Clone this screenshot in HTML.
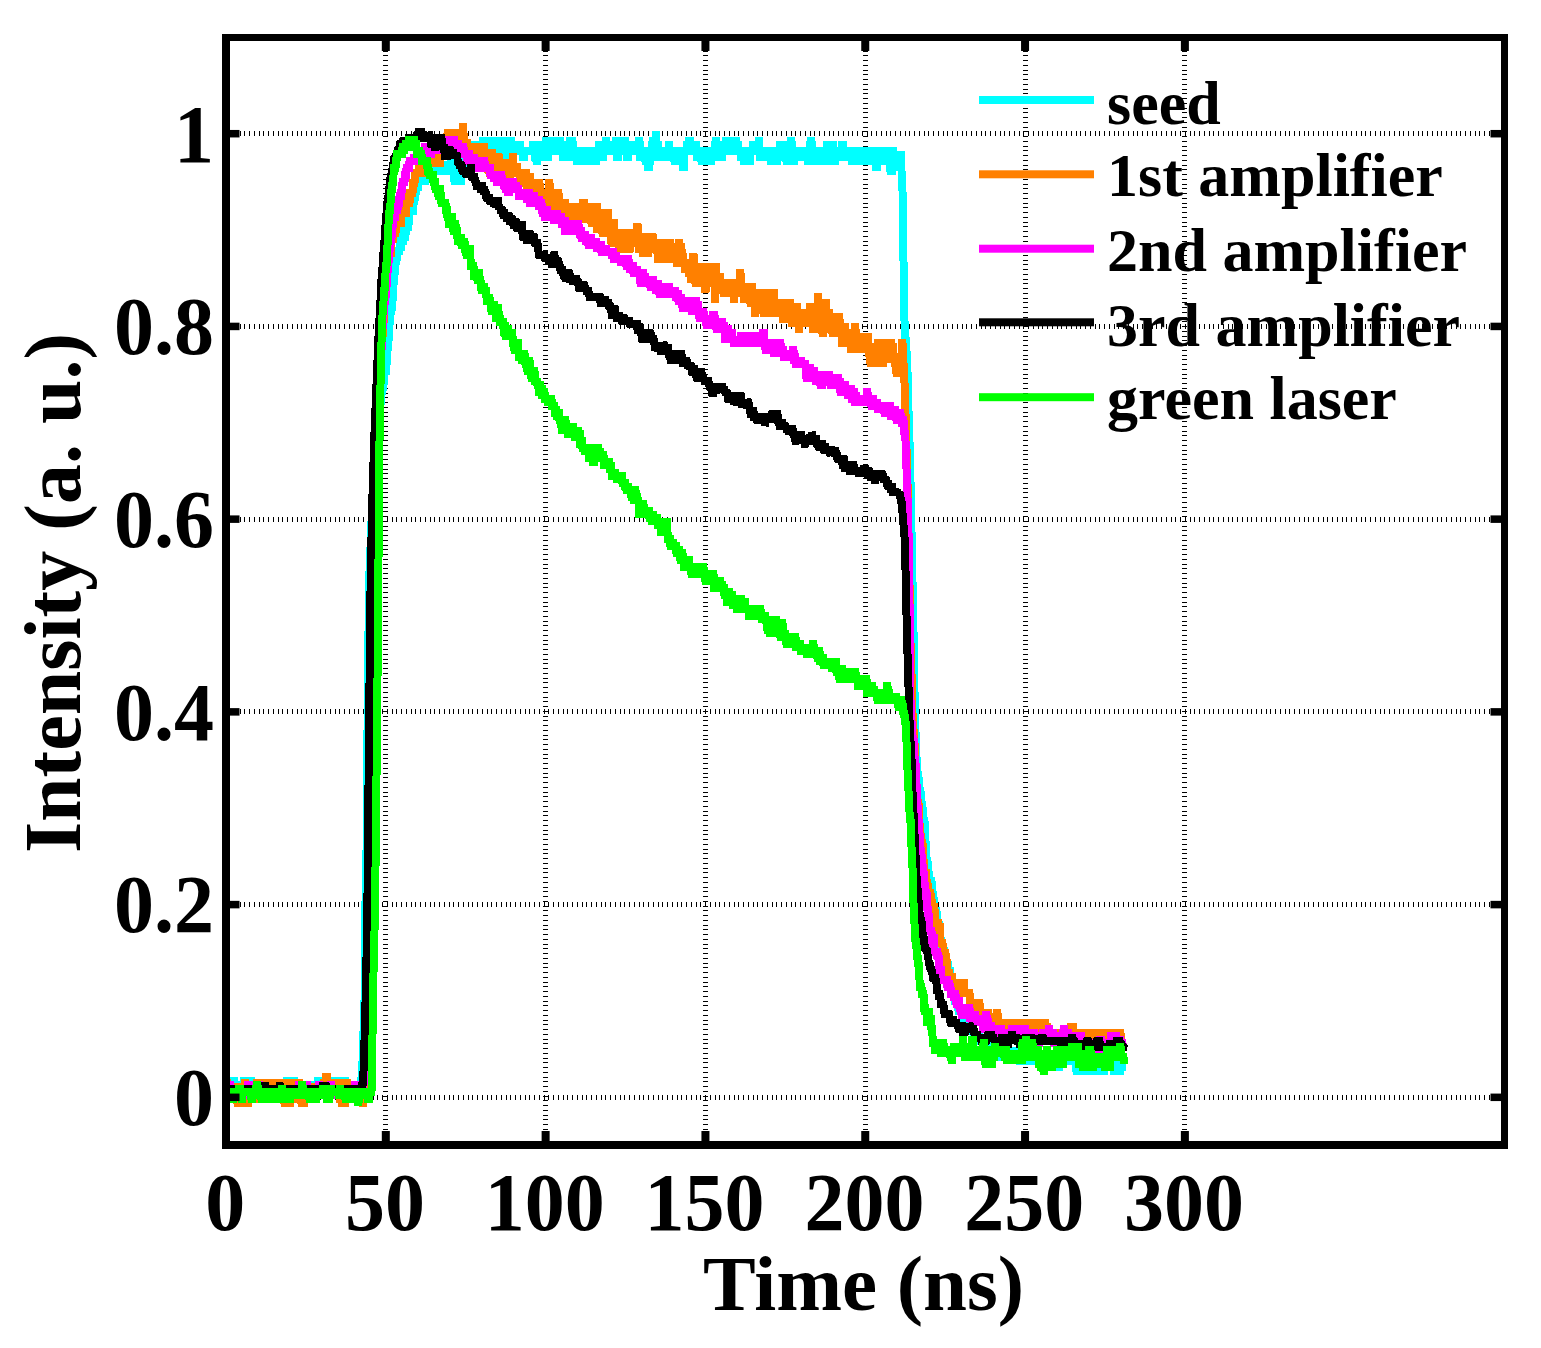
<!DOCTYPE html>
<html><head><meta charset="utf-8"><title>Intensity vs Time</title>
<style>html,body{margin:0;padding:0;background:#fff;}svg{display:block;}</style>
</head><body>
<svg width="1541" height="1348" viewBox="0 0 1541 1348">
<rect width="1541" height="1348" fill="#fff"/>
<g stroke="#000" stroke-width="5" stroke-dasharray="1 3.75" shape-rendering="crispEdges"><line x1="230" y1="1097.32" x2="1501" y2="1097.32"/><line x1="230" y1="904.60" x2="1501" y2="904.60"/><line x1="230" y1="711.87" x2="1501" y2="711.87"/><line x1="230" y1="519.15" x2="1501" y2="519.15"/><line x1="230" y1="326.43" x2="1501" y2="326.43"/><line x1="230" y1="133.70" x2="1501" y2="133.70"/><line x1="385.81" y1="41" x2="385.81" y2="1141"/><line x1="545.62" y1="41" x2="545.62" y2="1141"/><line x1="705.44" y1="41" x2="705.44" y2="1141"/><line x1="865.25" y1="41" x2="865.25" y2="1141"/><line x1="1025.06" y1="41" x2="1025.06" y2="1141"/><line x1="1184.88" y1="41" x2="1184.88" y2="1141"/></g>
<polyline fill="none" stroke="#00FFFF" stroke-width="8" stroke-linejoin="miter" stroke-miterlimit="2" shape-rendering="crispEdges" points="226,1091 228.5,1091 229,1081 229.5,1081 230,1091 232.5,1091 233,1081 234.5,1081 235,1091 236,1091 236.5,1081 237,1091 238.5,1091 239,1081 239.5,1091 243.5,1091 244,1081 245,1081 245.5,1091 246,1091 246.5,1081 247,1091 247.5,1091 248,1081 251,1081 251.5,1091 252,1091 252.5,1081 253,1091 272,1091 272.5,1081 273,1091 280,1091 280.5,1081 281,1091 282,1091 282.5,1081 283,1091 286,1091 286.5,1081 287,1081 287.5,1091 288,1081 289,1081 289.5,1091 291.5,1091 292,1081 292.5,1081 293,1091 293.5,1081 294,1081 294.5,1091 298.5,1091 299,1081 299.5,1091 312.5,1091 313,1081 313.5,1091 314,1091 314.5,1081 315,1091 317,1091 317.5,1081 318,1081 318.5,1091 322,1091 322.5,1081 323,1091 324.5,1091 325,1081 325.5,1091 328,1091 328.5,1081 329,1091 330.5,1091 331,1081 331.5,1091 332,1091 332.5,1081 333,1081 333.5,1091 338,1091 338.5,1081 339,1091 339.5,1081 341.5,1081 342,1091 343.5,1091 344,1081 345.5,1081 346,1091 347,1091 347.5,1081 348,1091 349,1091 349.5,1081 350,1091 357,1091 357.5,1081 358,1091 360.5,1091 361,1081 361.5,1081 362,1071 362.5,1061 363,1051 363.5,1031 364,1021 364.5,1001 365,951 365.5,901 366,871 366.5,851 367,791 367.5,731 368,671 368.5,631 369,601 369.5,571 370,551 370.5,551 371,531 371.5,521 372,511 372.5,501 373,491 373.5,481 374,481 374.5,471 375,461 375.5,451 376.5,451 377,441 377.5,431 378.5,431 379,421 379.5,411 380,411 380.5,401 381,401 381.5,391 382.5,391 383,381 384,381 384.5,371 386,371 386.5,361 387,361 387.5,351 388,341 388.5,341 389,331 389.5,321 390,321 390.5,311 391.5,311 392,301 392.5,301 393,291 393.5,281 394,281 394.5,271 395,271 395.5,261 396.5,261 397,251 399.5,251 400,241 400.5,251 401,241 401.5,241 402,231 402.5,241 403,241 403.5,231 404,231 404.5,241 405,231 406.5,231 407,221 407.5,231 408,221 409,221 409.5,211 413,211 413.5,201 414.5,201 415,191 416,191 416.5,181 417,181 417.5,191 418,181 420.5,181 421,171 424,171 424.5,181 425.5,181 426,171 426.5,181 427,171 432,171 432.5,181 433,171 437.5,171 438,161 439.5,161 440,171 445,171 445.5,161 446,171 447,171 447.5,161 448,171 450.5,171 451,161 451.5,161 452,171 452.5,161 453,171 454,171 454.5,181 455,181 455.5,171 460,171 460.5,181 461,181 461.5,171 464,171 464.5,161 468,161 468.5,151 469,161 470,161 470.5,151 471.5,151 472,141 472.5,151 473,161 473.5,151 474,141 474.5,151 475,151 475.5,141 476,161 476.5,161 477,151 477.5,151 478,161 478.5,161 479,151 482.5,151 483,141 483.5,141 484,151 484.5,141 485.5,141 486,151 488.5,151 489,141 490,141 490.5,151 491,141 491.5,151 492,151 492.5,141 493,151 493.5,141 494,151 496.5,151 497,141 498.5,141 499,151 499.5,151 500,141 502,141 502.5,151 504.5,151 505,161 505.5,151 506,141 506.5,141 507,151 507.5,141 508,151 509,151 509.5,141 511.5,141 512,151 513,151 513.5,141 514,151 519.5,151 520,141 520.5,151 523,151 523.5,161 524,151 533,151 533.5,141 534,151 535,151 535.5,161 536,151 536.5,161 537,161 537.5,151 539.5,151 540,141 540.5,151 541,151 541.5,141 542,151 544.5,151 545,161 545.5,151 546,141 546.5,141 547,151 547.5,151 548,161 548.5,151 550.5,151 551,141 552,141 552.5,151 553.5,151 554,141 554.5,141 555,151 558,151 558.5,141 559,151 559.5,141 560.5,141 561,151 563,151 563.5,161 564,151 565,151 565.5,141 566,151 567,151 567.5,141 568,161 568.5,151 569.5,151 570,141 572.5,141 573,151 574,151 574.5,161 575,151 576.5,151 577,161 577.5,161 578,151 580.5,151 581,161 581.5,161 582,151 584.5,151 585,161 585.5,151 588,151 588.5,161 589.5,161 590,151 592,151 592.5,161 593,161 593.5,151 595,151 595.5,161 596,161 596.5,151 599,151 599.5,141 600,151 602,151 602.5,161 603,151 605.5,151 606,141 606.5,141 607,151 609,151 609.5,141 610,151 615.5,151 616,141 616.5,141 617,151 617.5,161 618,151 618.5,141 623,141 623.5,151 624.5,151 625,141 625.5,141 626,151 626.5,141 627,151 627.5,161 628,151 629,151 629.5,141 630,151 632,151 632.5,141 633,151 634.5,151 635,141 635.5,151 638,151 638.5,141 639.5,141 640,151 640.5,161 641,151 641.5,161 642,151 645,151 645.5,161 646,161 646.5,151 647.5,151 648,161 648.5,171 649,161 650.5,161 651,151 651.5,161 652,151 652.5,141 653,141 653.5,151 654,151 654.5,141 655.5,141 656,131 656.5,151 657,151 657.5,141 658,151 658.5,151 659,161 659.5,151 660.5,151 661,161 661.5,151 663.5,151 664,161 664.5,151 667.5,151 668,161 668.5,151 669,141 669.5,151 670,151 670.5,161 671,151 671.5,161 672,151 674,151 674.5,161 675,161 675.5,151 676.5,151 677,161 677.5,151 679.5,151 680,161 680.5,161 681,151 681.5,151 682,161 682.5,151 683,151 683.5,171 684,161 684.5,151 687,151 687.5,141 688,151 688.5,151 689,141 690,141 690.5,151 692,151 692.5,141 693,151 693.5,141 694,151 695,151 695.5,141 696,151 697,151 697.5,161 698,151 699,151 699.5,161 700,151 701,151 701.5,161 702,161 702.5,151 703.5,151 704,161 706,161 706.5,151 709,151 709.5,161 710,151 710.5,151 711,161 711.5,161 712,151 712.5,151 713,161 713.5,151 714,161 714.5,151 715,151 715.5,141 716.5,141 717,151 719.5,151 720,141 720.5,151 721,141 721.5,151 722,161 722.5,151 723,151 723.5,141 724,151 724.5,141 725,151 725.5,151 726,141 727.5,141 728,151 729,151 729.5,141 730,151 730.5,141 731,151 731.5,151 732,141 732.5,151 733,141 733.5,141 734,151 734.5,141 736.5,141 737,151 737.5,151 738,141 738.5,151 740.5,151 741,161 741.5,151 743.5,151 744,161 744.5,161 745,151 745.5,161 746,161 746.5,151 747,151 747.5,161 750,161 750.5,151 753,151 753.5,141 754,151 757,151 757.5,141 758,151 758.5,141 759,141 759.5,151 760,161 760.5,151 761.5,151 762,161 762.5,151 765,151 765.5,161 766,151 767.5,151 768,161 768.5,151 770.5,151 771,161 771.5,161 772,151 772.5,151 773,161 774.5,161 775,151 775.5,161 777.5,161 778,151 779.5,151 780,141 780.5,151 783.5,151 784,141 784.5,151 786,151 786.5,161 788,161 788.5,151 789,161 789.5,161 790,151 790.5,141 791.5,141 792,151 793,151 793.5,161 794.5,161 795,151 795.5,151 796,161 796.5,151 798.5,151 799,161 799.5,151 800.5,151 801,161 801.5,151 805,151 805.5,161 806,151 807.5,151 808,161 809.5,161 810,151 810.5,141 811,141 811.5,151 812,141 812.5,151 814.5,151 815,161 815.5,151 816,151 816.5,161 818.5,161 819,151 819.5,151 820,161 820.5,151 821,161 822,161 822.5,151 824,151 824.5,161 826.5,161 827,151 827.5,141 828,151 829.5,151 830,161 830.5,161 831,151 832,151 832.5,141 833,151 834,151 834.5,161 835.5,161 836,151 836.5,151 837,161 837.5,151 839,151 839.5,161 840,151 842,151 842.5,141 843,151 847,151 847.5,161 848,151 849.5,151 850,161 850.5,151 851,161 851.5,151 852,161 852.5,161 853,151 853.5,151 854,161 855,161 855.5,151 856,151 856.5,161 859,161 859.5,151 860.5,151 861,161 861.5,161 862,151 863,151 863.5,161 865.5,161 866,151 867.5,151 868,161 869,161 869.5,151 870,151 870.5,161 874,161 874.5,151 875,151 875.5,161 876,161 876.5,171 877,161 877.5,161 878,151 879.5,151 880,161 882.5,161 883,151 883.5,151 884,161 884.5,161 885,151 886.5,151 887,161 890,161 890.5,171 892,171 892.5,151 893,151 893.5,161 895.5,161 896,171 896.5,161 900,161 900.5,151 901,161 901.5,171 902,181 902.5,191 903,221 903.5,261 904,291 904.5,321 905,331 905.5,341 906,341 906.5,351 907,361 907.5,371 908,401 908.5,411 909,421 909.5,441 910,461 910.5,481 911,511 911.5,531 912,551 912.5,581 913,601 913.5,631 914,661 914.5,691 915,711 915.5,731 916,751 916.5,761 917,761 917.5,771 918,781 919,781 919.5,791 920.5,791 921,801 921.5,801 922,811 923,811 923.5,821 924.5,821 925,831 925.5,841 926,851 926.5,861 927.5,861 928,871 928.5,871 929,881 931.5,881 932,891 932.5,891 933,901 934,901 934.5,911 936.5,911 937,921 937.5,931 938,921 938.5,931 939,921 939.5,931 940,931 940.5,941 941,941 941.5,951 944.5,951 945,961 946.5,961 947,971 947.5,961 948,971 950,971 950.5,981 951,991 954.5,991 955,1001 957.5,1001 958,1011 958.5,1001 959,1011 963,1011 963.5,1021 965.5,1021 966,1011 966.5,1011 967,1021 968.5,1021 969,1031 969.5,1031 970,1021 970.5,1031 971,1031 971.5,1021 972,1021 972.5,1031 973.5,1031 974,1041 978,1041 978.5,1031 979,1041 985,1041 985.5,1051 986,1041 986.5,1041 987,1051 988,1051 988.5,1041 989,1051 1001,1051 1001.5,1061 1002,1051 1011.5,1051 1012,1061 1012.5,1051 1018,1051 1018.5,1061 1019,1051 1019.5,1061 1020.5,1061 1021,1051 1022,1051 1022.5,1061 1044.5,1061 1045,1071 1045.5,1061 1056.5,1061 1057,1071 1057.5,1061 1058,1071 1058.5,1061 1059,1071 1059.5,1061 1062,1061 1062.5,1051 1063,1061 1064.5,1061 1065,1051 1065.5,1061 1076,1061 1076.5,1071 1077.5,1071 1078,1061 1079,1061 1079.5,1071 1080,1071 1080.5,1061 1081.5,1061 1082,1071 1084,1071 1084.5,1061 1086,1061 1086.5,1071 1088,1071 1088.5,1061 1089,1071 1089.5,1061 1091.5,1061 1092,1071 1092.5,1061 1093.5,1061 1094,1071 1095.5,1071 1096,1061 1096.5,1061 1097,1071 1097.5,1071 1098,1061 1098.5,1071 1099,1061 1099.5,1071 1100,1061 1101,1061 1101.5,1071 1102.5,1071 1103,1061 1103.5,1071 1104,1071 1104.5,1061 1106,1061 1106.5,1071 1107,1061 1113.5,1061 1114,1071 1115,1071 1115.5,1061 1116,1061 1116.5,1071 1117,1071 1117.5,1061 1119.5,1061 1120,1071 1120.5,1061 1121.5,1061 1122,1071 1124,1071"/>
<polyline fill="none" stroke="#FF8000" stroke-width="8" stroke-linejoin="miter" stroke-miterlimit="2" shape-rendering="crispEdges" points="226,1093 226.5,1093 227,1083 227.5,1083 228,1093 228.5,1083 229,1093 230,1093 230.5,1083 231,1093 231.5,1103 232,1093 234,1093 234.5,1083 235,1093 237,1093 237.5,1103 239.5,1103 240,1093 240.5,1103 241,1103 241.5,1093 242.5,1093 243,1083 243.5,1093 244,1093 244.5,1083 245,1083 245.5,1093 246,1083 246.5,1093 247,1093 247.5,1103 248.5,1103 249,1093 249.5,1103 250,1093 250.5,1103 251,1093 253,1093 253.5,1103 254,1093 256,1093 256.5,1083 257,1083 257.5,1093 258,1083 261,1083 261.5,1093 264,1093 264.5,1103 265,1093 265.5,1093 266,1083 266.5,1093 267,1083 269,1083 269.5,1093 270,1093 270.5,1083 271,1093 271.5,1093 272,1083 272.5,1093 273,1083 273.5,1093 274,1093 274.5,1083 275,1093 275.5,1083 276,1093 276.5,1093 277,1083 278,1083 278.5,1093 279,1083 279.5,1083 280,1093 280.5,1083 283,1083 283.5,1093 284,1093 284.5,1103 285.5,1103 286,1093 287.5,1093 288,1083 288.5,1083 289,1093 289.5,1093 290,1103 290.5,1103 291,1093 291.5,1093 292,1083 293.5,1083 294,1093 294.5,1093 295,1083 295.5,1093 296,1103 296.5,1093 298,1093 298.5,1083 299.5,1083 300,1093 301,1093 301.5,1103 303,1103 303.5,1093 304,1103 304.5,1103 305,1093 305.5,1093 306,1103 306.5,1093 307,1093 307.5,1103 308,1093 311.5,1093 312,1103 312.5,1083 313,1103 313.5,1093 318.5,1093 319,1083 319.5,1093 321,1093 321.5,1083 322,1093 322.5,1083 323,1093 323.5,1083 325,1083 325.5,1093 326,1083 326.5,1073 327,1083 328.5,1083 329,1093 330.5,1093 331,1083 332.5,1083 333,1093 339,1093 339.5,1083 340,1083 340.5,1103 341,1093 341.5,1093 342,1103 342.5,1103 343,1093 344,1093 344.5,1103 345.5,1103 346,1093 346.5,1083 347,1083 347.5,1093 351.5,1093 352,1103 352.5,1093 354,1093 354.5,1083 355,1093 355.5,1103 356,1093 356.5,1093 357,1083 357.5,1093 358.5,1093 359,1083 359.5,1093 360,1103 360.5,1093 361,1083 361.5,1093 362.5,1093 363,1103 363.5,1103 364,1093 364.5,1063 365,1043 365.5,1013 366,993 366.5,973 367,933 367.5,903 368,873 368.5,833 369,793 369.5,763 370,733 370.5,693 371,673 371.5,643 372,623 372.5,603 373,573 373.5,553 374,533 374.5,513 375,503 375.5,483 376,473 376.5,453 377,443 377.5,433 378,413 378.5,403 379,383 379.5,383 380,373 380.5,363 381,353 381.5,343 382,343 382.5,333 383,333 383.5,323 384,313 384.5,293 385,283 385.5,293 386,293 386.5,273 387,263 387.5,263 388,273 388.5,263 389,253 391,253 391.5,243 392,233 392.5,243 393,233 395,233 395.5,223 396,233 396.5,223 397,223 397.5,213 398,223 399.5,223 400,213 400.5,223 401,223 401.5,213 406,213 406.5,203 407,193 407.5,203 409.5,203 410,193 412.5,193 413,183 414.5,183 415,173 418.5,173 419,163 422,163 422.5,173 423,173 423.5,163 424.5,163 425,173 426.5,173 427,163 432,163 432.5,153 433,163 437.5,163 438,153 438.5,153 439,163 440,163 440.5,153 441.5,153 442,143 442.5,143 443,153 443.5,143 444,143 444.5,153 445,143 447,143 447.5,133 448,133 448.5,143 450,143 450.5,133 451,133 451.5,143 453,143 453.5,133 454,143 454.5,133 455.5,133 456,143 456.5,143 457,153 457.5,143 458,133 458.5,133 459,143 460,143 460.5,153 461,153 461.5,143 462,143 462.5,133 463,123 463.5,143 464,133 464.5,143 465,153 465.5,143 467,143 467.5,153 468,163 468.5,153 469,163 469.5,153 470.5,153 471,163 471.5,163 472,153 473.5,153 474,143 474.5,153 475,153 475.5,143 476,163 476.5,153 477.5,153 478,143 478.5,153 479,163 479.5,153 480,153 480.5,163 481,153 481.5,163 482,163 482.5,153 483,153 483.5,143 484,153 484.5,153 485,163 485.5,153 486.5,153 487,163 487.5,163 488,173 488.5,163 489,163 489.5,173 490,173 490.5,163 491,163 491.5,153 492,153 492.5,163 495,163 495.5,173 496,163 498,163 498.5,153 499,173 499.5,163 501.5,163 502,173 502.5,163 503,163 503.5,173 504,163 507.5,163 508,173 508.5,173 509,163 509.5,173 510,183 510.5,173 511,163 511.5,173 512.5,173 513,153 513.5,173 516,173 516.5,163 517,173 520,173 520.5,183 521,173 521.5,173 522,183 523.5,183 524,173 526,173 526.5,183 527,193 527.5,173 528,183 529,183 529.5,173 530,183 531.5,183 532,193 532.5,183 533,193 533.5,183 534,193 534.5,183 537.5,183 538,193 538.5,193 539,183 539.5,183 540,193 541.5,193 542,203 543,203 543.5,193 544,203 544.5,203 545,193 545.5,193 546,203 546.5,193 547,193 547.5,203 548,193 548.5,193 549,183 549.5,183 550,193 550.5,193 551,203 551.5,203 552,193 552.5,203 553,203 553.5,213 554,213 554.5,203 555,213 555.5,203 557.5,203 558,193 558.5,193 559,203 560,203 560.5,213 561,213 561.5,203 565,203 565.5,213 566,213 566.5,223 567,223 567.5,213 568,223 569.5,223 570,213 570.5,213 571,203 571.5,213 572,223 572.5,213 574.5,213 575,203 575.5,213 576.5,213 577,203 577.5,213 578,223 578.5,223 579,213 580.5,213 581,203 581.5,213 582,213 582.5,203 583,203 583.5,213 584,203 584.5,203 585,223 585.5,213 587,213 587.5,203 588,213 588.5,203 589,213 589.5,213 590,203 590.5,213 591,203 591.5,223 592,223 592.5,213 593,213 593.5,223 594,213 596,213 596.5,203 597,213 597.5,233 598,223 598.5,223 599,213 599.5,223 600,213 600.5,213 601,223 601.5,213 602,213 602.5,233 604,233 604.5,213 605,223 605.5,223 606,233 606.5,223 607,233 607.5,213 608,213 608.5,233 609,223 609.5,223 610,233 611,233 611.5,243 612,243 612.5,233 613,223 614,223 614.5,233 615,233 615.5,243 616,233 617.5,233 618,243 618.5,233 619,243 619.5,253 620,243 620.5,233 621,233 621.5,243 622.5,243 623,233 623.5,233 624,243 624.5,253 625,243 625.5,233 626.5,233 627,243 628,243 628.5,233 629,243 629.5,253 630,233 630.5,243 631,233 632,233 632.5,243 633,243 633.5,233 634,233 634.5,243 635,233 635.5,243 636,233 636.5,233 637,243 637.5,223 638,243 639,243 639.5,253 640,243 642,243 642.5,233 643,253 644,253 644.5,243 645,233 645.5,243 646,233 646.5,243 647,243 647.5,253 648,253 648.5,243 649,253 649.5,243 650,253 650.5,243 652,243 652.5,233 653,253 653.5,243 657,243 657.5,253 658,253 658.5,263 659,253 660,253 660.5,243 661,253 661.5,243 662,243 662.5,253 663,243 663.5,253 664,243 664.5,243 665,253 665.5,253 666,243 666.5,253 667,263 667.5,253 668,243 668.5,243 669,253 669.5,253 670,243 670.5,243 671,253 673,253 673.5,243 674,253 674.5,263 675,253 676.5,253 677,263 677.5,263 678,253 678.5,243 679,243 679.5,263 680,253 680.5,253 681,243 681.5,253 682,253 682.5,263 683,253 683.5,263 684.5,263 685,273 685.5,263 686.5,263 687,273 687.5,263 688.5,263 689,273 689.5,273 690,263 690.5,273 691,283 691.5,273 692.5,273 693,263 693.5,253 694,283 694.5,273 695,273 695.5,283 697,283 697.5,273 699,273 699.5,283 700,273 700.5,283 701,263 701.5,283 702,273 702.5,283 703,273 704,273 704.5,283 705,283 705.5,293 706,273 706.5,273 707,263 707.5,273 708,283 708.5,283 709,273 709.5,263 710,273 710.5,273 711,263 711.5,273 713,273 713.5,283 714.5,283 715,303 715.5,263 716,273 716.5,283 719.5,283 720,273 720.5,283 723,283 723.5,293 724,293 724.5,283 725,293 725.5,283 726,293 726.5,283 727.5,283 728,293 728.5,283 729,293 729.5,283 730,293 730.5,293 731,283 731.5,293 732,283 732.5,293 733.5,293 734,303 734.5,293 735,283 736,283 736.5,293 737.5,293 738,283 738.5,283 739,293 739.5,283 740,273 740.5,273 741,283 741.5,293 742,293 742.5,283 743,293 743.5,293 744,283 744.5,303 745,293 746.5,293 747,303 747.5,293 748,303 748.5,293 750,293 750.5,303 751,303 751.5,283 752,293 753,293 753.5,303 754,303 754.5,293 755,313 755.5,313 756,293 756.5,303 757,303 757.5,293 758,293 758.5,303 759,303 759.5,293 761,293 761.5,303 762,293 762.5,303 763,303 763.5,313 764,313 764.5,303 765.5,303 766,313 766.5,303 767,293 767.5,293 768,303 768.5,303 769,293 769.5,303 770,303 770.5,313 771,313 771.5,303 772,293 774,293 774.5,303 776.5,303 777,313 777.5,303 778,303 778.5,313 780.5,313 781,303 781.5,303 782,313 782.5,303 783,313 783.5,323 784,313 784.5,303 787,303 787.5,313 788,303 790.5,303 791,313 791.5,313 792,323 792.5,323 793,313 793.5,313 794,323 794.5,313 795.5,313 796,303 796.5,313 797,303 797.5,313 798,313 798.5,323 799,333 799.5,323 800,313 801.5,313 802,323 803.5,323 804,313 804.5,323 805,313 805.5,323 806,323 806.5,313 807,313 807.5,323 808.5,323 809,313 810,313 810.5,303 811,313 811.5,323 812,313 812.5,323 813,323 813.5,333 814,323 814.5,323 815,313 815.5,323 816,313 817.5,313 818,293 818.5,303 819,303 819.5,313 820,313 820.5,323 822,323 822.5,333 823,333 823.5,323 824,323 824.5,313 825,313 825.5,303 826,303 826.5,313 829,313 829.5,323 830,313 830.5,333 831,323 832,323 832.5,333 835.5,333 836,323 837,323 837.5,333 838,333 838.5,313 839,323 839.5,333 840,323 840.5,323 841,333 841.5,333 842,343 842.5,343 843,323 843.5,333 844,333 844.5,323 845,333 845.5,343 849.5,343 850,333 851,333 851.5,353 852,343 852.5,343 853,353 853.5,343 854,343 854.5,333 855,323 855.5,333 856,333 856.5,343 857,343 857.5,353 858,343 858.5,343 859,333 859.5,343 860.5,343 861,353 861.5,343 863,343 863.5,353 864,343 864.5,343 865,353 865.5,343 867,343 867.5,333 868,343 868.5,343 869,353 870,353 870.5,363 871.5,363 872,353 873,353 873.5,363 875.5,363 876,353 876.5,343 877,353 877.5,343 878,343 878.5,353 879,343 879.5,353 880.5,353 881,343 881.5,353 882,353 882.5,363 883.5,363 884,353 884.5,353 885,343 886,343 886.5,353 887,353 887.5,363 888,353 888.5,343 889,363 889.5,353 890.5,353 891,343 891.5,343 892,353 892.5,353 893,343 893.5,353 894,363 894.5,353 895,363 896,363 896.5,373 897,373 897.5,363 898,363 898.5,353 899,363 900,363 900.5,353 901,363 901.5,363 902,343 902.5,343 903,353 903.5,363 904,373 904.5,383 905,393 905.5,413 906,433 906.5,453 907,453 907.5,483 908,513 908.5,543 909,553 909.5,583 910,623 910.5,643 911,653 911.5,673 912,703 912.5,713 913,723 913.5,733 914,733 914.5,743 915,753 915.5,763 916,783 916.5,793 917,793 917.5,803 918,803 918.5,813 919,803 919.5,823 920,833 920.5,833 921,843 922.5,843 923,853 923.5,863 924,863 924.5,873 926,873 926.5,883 927.5,883 928,893 929,893 929.5,903 930,893 930.5,893 931,903 932,903 932.5,913 933,913 933.5,903 934,913 935,913 935.5,923 938,923 938.5,933 939,933 939.5,923 940,933 940.5,943 942.5,943 943,953 943.5,953 944,963 944.5,953 945.5,953 946,963 947,963 947.5,973 948,983 948.5,973 949,973 949.5,983 951,983 951.5,973 952,983 956.5,983 957,993 957.5,993 958,983 958.5,983 959,993 963,993 963.5,983 964,983 964.5,993 969.5,993 970,1003 976,1003 976.5,1013 978.5,1013 979,1003 979.5,1003 980,1013 988.5,1013 989,1023 990.5,1023 991,1013 991.5,1023 996.5,1023 997,1013 997.5,1013 998,1023 999.5,1023 1000,1033 1002,1033 1002.5,1023 1009.5,1023 1010,1033 1010.5,1033 1011,1023 1013.5,1023 1014,1033 1014.5,1023 1015,1033 1015.5,1023 1024.5,1023 1025,1033 1025.5,1033 1026,1023 1026.5,1033 1028,1033 1028.5,1023 1029,1033 1029.5,1023 1031,1023 1031.5,1033 1032.5,1033 1033,1023 1033.5,1033 1034.5,1033 1035,1023 1035.5,1023 1036,1033 1036.5,1033 1037,1023 1037.5,1033 1040,1033 1040.5,1023 1041,1023 1041.5,1033 1044,1033 1044.5,1023 1045.5,1023 1046,1033 1046.5,1033 1047,1023 1047.5,1033 1071,1033 1071.5,1023 1072,1033 1072.5,1023 1073,1033 1093,1033 1093.5,1043 1094,1033 1096.5,1033 1097,1043 1097.5,1043 1098,1033 1102,1033 1102.5,1043 1103,1033 1103.5,1033 1104,1043 1104.5,1033 1109,1033 1109.5,1043 1111,1043 1111.5,1033 1120,1033 1120.5,1043 1121,1033 1124,1033"/>
<polyline fill="none" stroke="#FF00FF" stroke-width="8" stroke-linejoin="miter" stroke-miterlimit="2" shape-rendering="crispEdges" points="226,1092 226.5,1092 227,1085 227.5,1092 228,1092 228.5,1085 230,1085 230.5,1092 234.5,1092 235,1099 235.5,1092 238,1092 238.5,1085 239,1092 243,1092 243.5,1099 244,1092 245.5,1092 246,1085 246.5,1092 247.5,1092 248,1085 249.5,1085 250,1092 253,1092 253.5,1099 254,1092 257.5,1092 258,1085 258.5,1092 259,1085 259.5,1085 260,1092 262,1092 262.5,1085 263,1092 264,1092 264.5,1099 265,1092 266.5,1092 267,1085 267.5,1092 268.5,1092 269,1099 269.5,1092 270,1099 270.5,1092 274.5,1092 275,1085 275.5,1092 276.5,1092 277,1099 277.5,1092 278,1099 278.5,1092 279,1092 279.5,1099 280,1099 280.5,1092 286.5,1092 287,1085 287.5,1092 288,1092 288.5,1099 289,1092 291,1092 291.5,1085 292,1092 294,1092 294.5,1099 295,1092 298,1092 298.5,1085 299.5,1085 300,1092 301.5,1092 302,1099 302.5,1092 304.5,1092 305,1085 305.5,1092 306,1099 306.5,1085 307,1085 307.5,1092 311.5,1092 312,1099 312.5,1099 313,1092 313.5,1092 314,1085 314.5,1092 318.5,1092 319,1085 319.5,1085 320,1092 321,1092 321.5,1099 322,1092 330,1092 330.5,1085 331,1085 331.5,1092 333.5,1092 334,1099 334.5,1092 340.5,1092 341,1085 341.5,1092 342,1099 342.5,1092 344.5,1092 345,1085 345.5,1092 350.5,1092 351,1085 351.5,1092 352,1099 352.5,1092 354.5,1092 355,1085 356.5,1085 357,1092 361,1092 361.5,1085 363.5,1085 364,1078 364.5,1071 365,1050 365.5,1029 366,1001 366.5,973 367,938 367.5,903 368,868 368.5,833 369,798 369.5,770 370,735 370.5,707 371,679 371.5,651 372,623 372.5,595 373,574 373.5,560 374,532 374.5,518 375,504 375.5,483 376,469 376.5,462 377,448 377.5,434 378,420 378.5,413 379,399 379.5,392 380,378 380.5,371 381,357 381.5,350 382,336 382.5,329 383,322 383.5,315 384,308 384.5,301 385,301 385.5,294 386,294 386.5,287 387,273 387.5,273 388,266 388.5,259 389,259 389.5,252 390,245 390.5,245 391,238 391.5,238 392,231 392.5,224 393,224 393.5,217 395,217 395.5,210 397.5,210 398,203 399,203 399.5,196 401,196 401.5,189 402,189 402.5,182 404.5,182 405,175 406,175 406.5,168 409,168 409.5,161 413.5,161 414,154 414.5,161 419,161 419.5,154 420,161 421.5,161 422,154 422.5,154 423,147 423.5,154 424.5,154 425,147 428,147 428.5,154 429,154 429.5,147 430,147 430.5,154 431,154 431.5,147 432,147 432.5,154 433,147 435.5,147 436,154 436.5,147 437,154 437.5,147 442,147 442.5,140 446,140 446.5,147 447,147 447.5,140 448,140 448.5,147 449,140 449.5,147 450.5,147 451,140 451.5,147 452,147 452.5,140 454,140 454.5,147 455,147 455.5,154 456,147 457.5,147 458,140 458.5,147 459.5,147 460,154 460.5,147 461.5,147 462,154 462.5,147 463,147 463.5,154 464,147 464.5,154 466.5,154 467,161 468.5,161 469,154 469.5,154 470,161 470.5,154 471,161 471.5,168 472,161 473,161 473.5,154 474,168 474.5,161 475,168 476.5,168 477,161 477.5,168 478.5,168 479,161 479.5,161 480,168 481,168 481.5,161 482,168 483.5,168 484,161 484.5,161 485,168 490,168 490.5,175 494,175 494.5,182 495,175 496.5,175 497,182 498,182 498.5,175 499,182 499.5,182 500,175 501.5,175 502,182 503.5,182 504,189 504.5,182 505,182 505.5,189 506,189 506.5,182 508,182 508.5,196 509,189 509.5,189 510,182 513,182 513.5,189 515.5,189 516,182 516.5,189 518.5,189 519,196 522.5,196 523,189 523.5,196 527,196 527.5,203 528,196 528.5,189 529,196 529.5,196 530,203 531,203 531.5,196 532,203 533,203 533.5,196 534,196 534.5,203 538,203 538.5,196 539,203 539.5,210 540,203 540.5,210 541,203 541.5,203 542,210 543,210 543.5,217 544,210 544.5,210 545,217 546,217 546.5,210 547.5,210 548,217 549,217 549.5,210 550,217 554,217 554.5,224 555,217 555.5,217 556,224 556.5,217 557,210 557.5,217 558.5,217 559,224 559.5,217 561.5,217 562,224 564,224 564.5,217 565,231 565.5,231 566,224 566.5,231 567,231 567.5,224 568,224 568.5,231 570.5,231 571,224 573,224 573.5,231 574,231 574.5,224 576.5,224 577,231 577.5,231 578,224 578.5,224 579,231 579.5,231 580,238 580.5,231 581,231 581.5,238 582,238 582.5,231 583,238 584.5,238 585,231 585.5,238 586,245 586.5,238 588,238 588.5,245 590.5,245 591,238 591.5,238 592,245 595.5,245 596,238 596.5,245 597,252 597.5,245 601,245 601.5,252 605,252 605.5,245 606,252 612,252 612.5,259 613,252 613.5,252 614,259 615,259 615.5,252 616,259 620.5,259 621,266 621.5,259 623.5,259 624,266 624.5,259 625,259 625.5,266 626,259 626.5,266 627.5,266 628,259 628.5,259 629,266 630,266 630.5,273 631,266 633,266 633.5,273 635,273 635.5,266 636,273 636.5,266 637,273 639.5,273 640,280 640.5,280 641,287 641.5,280 642,273 642.5,280 643,273 643.5,273 644,280 644.5,280 645,273 645.5,280 648.5,280 649,287 649.5,280 650,280 650.5,287 652.5,287 653,280 653.5,280 654,287 654.5,280 655,287 655.5,287 656,294 656.5,280 657,287 657.5,287 658,280 658.5,287 659,287 659.5,294 661,294 661.5,287 663,287 663.5,294 665,294 665.5,287 666,294 666.5,287 667,287 667.5,294 668,287 669.5,287 670,294 673,294 673.5,287 674,294 674.5,294 675,287 675.5,294 676,294 676.5,301 677,294 678,294 678.5,301 680.5,301 681,294 681.5,301 682,308 682.5,301 683,308 683.5,308 684,301 684.5,301 685,308 686,308 686.5,301 689,301 689.5,308 691.5,308 692,315 692.5,308 693,308 693.5,315 694,308 695,308 695.5,301 696.5,301 697,308 697.5,308 698,301 698.5,308 699,315 700,315 700.5,322 701,315 701.5,315 702,322 702.5,315 703,308 703.5,315 704.5,315 705,322 705.5,315 706,322 707,322 707.5,329 708,322 708.5,315 709,322 709.5,322 710,315 710.5,322 712,322 712.5,315 714.5,315 715,322 716,322 716.5,329 717,329 717.5,322 720,322 720.5,329 721,322 722.5,322 723,329 723.5,322 724,329 725,329 725.5,343 726,336 726.5,336 727,329 728.5,329 729,336 729.5,329 730,336 730.5,329 731,336 731.5,336 732,329 732.5,336 733,343 733.5,336 734,343 734.5,343 735,336 735.5,343 738,343 738.5,336 739,343 739.5,336 740,343 740.5,343 741,336 742,336 742.5,343 745.5,343 746,336 746.5,343 747,336 747.5,343 748,343 748.5,336 749.5,336 750,343 754,343 754.5,336 755,336 755.5,343 756.5,343 757,336 759,336 759.5,343 760,343 760.5,336 761,343 761.5,336 763,336 763.5,329 764,343 764.5,343 765,350 765.5,343 766,350 767.5,350 768,343 768.5,343 769,350 769.5,350 770,343 770.5,350 771,350 771.5,343 772,343 772.5,350 774,350 774.5,357 775,350 776,350 776.5,357 777,343 777.5,350 778,343 780.5,343 781,350 783.5,350 784,357 792,357 792.5,350 793.5,350 794,357 794.5,364 795,357 795.5,357 796,364 796.5,364 797,357 797.5,364 800,364 800.5,357 801,364 805.5,364 806,371 806.5,378 807,378 807.5,371 808,371 808.5,378 809,371 809.5,364 810,371 810.5,371 811,378 812,378 812.5,371 813,371 813.5,378 814,371 814.5,371 815,378 816,378 816.5,385 817,378 817.5,371 818,378 818.5,371 819,378 819.5,371 820,378 820.5,385 822,385 822.5,378 823,371 823.5,378 828,378 828.5,371 829,378 830,378 830.5,385 831,385 831.5,378 832,378 832.5,385 833,378 833.5,378 834,385 834.5,385 835,378 835.5,385 837.5,385 838,378 838.5,378 839,385 839.5,378 840,385 840.5,392 841,392 841.5,385 842.5,385 843,392 843.5,392 844,385 845,385 845.5,392 846,385 846.5,392 848,392 848.5,399 849,392 849.5,392 850,399 850.5,392 851,385 851.5,392 852,399 853.5,399 854,392 854.5,392 855,399 855.5,406 856,392 856.5,399 857,399 857.5,406 858,399 865.5,399 866,406 866.5,399 867,392 867.5,392 868,399 871,399 871.5,406 872,406 872.5,399 873.5,399 874,406 876,406 876.5,399 877,406 877.5,406 878,413 878.5,406 880,406 880.5,413 881,406 882,406 882.5,413 883,406 884,406 884.5,413 886.5,413 887,406 887.5,413 889,413 889.5,406 890.5,406 891,413 891.5,420 892,413 893,413 893.5,420 894,413 894.5,406 895,413 896,413 896.5,420 897.5,420 898,413 900.5,413 901,420 901.5,420 902,427 902.5,420 903.5,420 904,427 904.5,434 905,434 905.5,441 906,448 906.5,469 907,483 907.5,497 908,518 908.5,532 909,553 909.5,602 910,658 910.5,700 911,714 911.5,721 912,728 912.5,735 913,742 914,742 914.5,756 915,763 915.5,763 916,777 916.5,784 917,791 917.5,805 918,812 918.5,819 919,826 919.5,833 920,840 920.5,847 921,854 921.5,854 922,861 922.5,868 923,868 923.5,875 924,875 924.5,882 925,889 925.5,889 926,896 927,896 927.5,910 928,910 928.5,917 929,917 929.5,931 931.5,931 932,938 932.5,945 933,945 933.5,938 934,938 934.5,952 937,952 937.5,959 938,952 938.5,959 939,959 939.5,973 940,973 940.5,966 941,973 941.5,980 947,980 947.5,987 948.5,987 949,980 949.5,987 950.5,987 951,994 954,994 954.5,1001 955,994 955.5,994 956,1001 957,1001 957.5,1008 958,1001 959,1001 959.5,1008 961,1008 961.5,1015 962,1015 962.5,1008 963,1015 968.5,1015 969,1008 969.5,1008 970,1022 970.5,1015 971.5,1015 972,1022 972.5,1022 973,1015 973.5,1022 974,1022 974.5,1015 975,1015 975.5,1022 977,1022 977.5,1015 978,1022 978.5,1015 979,1022 981.5,1022 982,1015 982.5,1022 983,1029 985,1029 985.5,1022 986,1015 986.5,1015 987,1029 987.5,1029 988,1022 988.5,1022 989,1029 990.5,1029 991,1022 991.5,1029 993.5,1029 994,1036 995.5,1036 996,1029 996.5,1036 997,1029 997.5,1029 998,1036 998.5,1029 999,1036 999.5,1029 1000,1036 1000.5,1029 1001,1029 1001.5,1036 1004,1036 1004.5,1043 1005,1036 1005.5,1029 1006,1036 1007,1036 1007.5,1043 1008,1043 1008.5,1029 1009,1036 1009.5,1029 1010,1036 1011.5,1036 1012,1029 1012.5,1029 1013,1036 1014.5,1036 1015,1029 1015.5,1029 1016,1036 1016.5,1029 1017,1029 1017.5,1036 1018,1029 1018.5,1036 1019,1036 1019.5,1029 1020,1036 1020.5,1043 1021,1043 1021.5,1036 1022,1043 1022.5,1043 1023,1036 1023.5,1029 1024,1036 1024.5,1029 1025,1029 1025.5,1036 1026,1036 1026.5,1029 1027,1036 1027.5,1029 1028,1036 1028.5,1036 1029,1043 1030.5,1043 1031,1036 1031.5,1036 1032,1043 1032.5,1050 1033,1043 1033.5,1043 1034,1029 1034.5,1036 1035,1036 1035.5,1043 1036,1036 1036.5,1036 1037,1043 1037.5,1043 1038,1036 1038.5,1043 1039,1043 1039.5,1036 1040,1043 1040.5,1036 1042.5,1036 1043,1029 1043.5,1036 1046.5,1036 1047,1029 1047.5,1036 1048,1036 1048.5,1029 1049,1029 1049.5,1036 1050.5,1036 1051,1029 1051.5,1036 1052,1036 1052.5,1029 1053,1036 1053.5,1036 1054,1043 1054.5,1043 1055,1036 1056.5,1036 1057,1043 1057.5,1036 1058,1036 1058.5,1043 1059,1036 1061,1036 1061.5,1043 1062,1036 1062.5,1043 1063,1036 1063.5,1029 1064.5,1029 1065,1036 1066,1036 1066.5,1029 1067,1036 1067.5,1036 1068,1029 1068.5,1043 1069,1036 1069.5,1043 1070,1036 1070.5,1043 1072,1043 1072.5,1036 1073.5,1036 1074,1043 1074.5,1043 1075,1036 1075.5,1036 1076,1043 1076.5,1036 1077,1036 1077.5,1043 1079,1043 1079.5,1036 1081,1036 1081.5,1043 1084.5,1043 1085,1050 1085.5,1043 1086,1043 1086.5,1050 1087,1043 1087.5,1050 1088,1050 1088.5,1043 1090.5,1043 1091,1050 1091.5,1043 1092,1050 1097.5,1050 1098,1043 1099,1043 1099.5,1050 1100,1050 1100.5,1036 1101,1043 1103,1043 1103.5,1050 1104,1043 1105.5,1043 1106,1050 1106.5,1050 1107,1043 1110.5,1043 1111,1036 1111.5,1036 1112,1043 1112.5,1036 1113.5,1036 1114,1043 1114.5,1036 1115,1043 1115.5,1043 1116,1036 1116.5,1036 1117,1043 1117.5,1036 1118,1043 1119.5,1043 1120,1036 1120.5,1043 1122.5,1043 1123,1050 1123.5,1043 1124,1043"/>
<polyline fill="none" stroke="#000000" stroke-width="8" stroke-linejoin="miter" stroke-miterlimit="2" shape-rendering="crispEdges" points="226,1089 228.5,1089 229,1092 229.5,1092 230,1089 235,1089 235.5,1092 236,1092 236.5,1089 239.5,1089 240,1086 240.5,1089 246.5,1089 247,1092 247.5,1089 252,1089 252.5,1092 254,1092 254.5,1089 255,1089 255.5,1092 256.5,1092 257,1089 259,1089 259.5,1092 260,1089 260.5,1092 261,1092 261.5,1089 264,1089 264.5,1086 265.5,1086 266,1089 266.5,1089 267,1086 267.5,1089 268,1086 268.5,1089 272.5,1089 273,1092 273.5,1089 279,1089 279.5,1086 280,1086 280.5,1089 283,1089 283.5,1086 284,1089 295.5,1089 296,1092 297,1092 297.5,1089 298,1092 299,1092 299.5,1089 300.5,1089 301,1092 301.5,1092 302,1089 315.5,1089 316,1086 316.5,1089 322,1089 322.5,1086 323.5,1086 324,1089 324.5,1086 326,1086 326.5,1089 327,1086 327.5,1089 335.5,1089 336,1086 336.5,1089 337,1086 337.5,1089 338,1089 338.5,1086 339,1089 341.5,1089 342,1092 344,1092 344.5,1089 345.5,1089 346,1092 346.5,1092 347,1089 347.5,1089 348,1092 348.5,1092 349,1089 351.5,1089 352,1086 352.5,1089 353,1089 353.5,1092 354,1089 360,1089 360.5,1086 361,1089 361.5,1086 362.5,1086 363,1080 363.5,1071 364,1059 364.5,1041 365,1023 365.5,1002 366,981 366.5,957 367,927 367.5,894 368,843 368.5,786 369,732 369.5,684 370,633 370.5,591 371,561 371.5,537 372,513 372.5,495 373,477 373.5,462 374,447 374.5,432 375,417 375.5,408 376,396 376.5,384 377,372 377.5,360 378,348 378.5,336 379,327 379.5,318 380,309 380.5,300 381,291 381.5,279 382,273 382.5,267 383,261 383.5,252 384,249 384.5,240 385,228 385.5,225 386,219 386.5,213 387,210 387.5,201 388,198 388.5,195 389,189 389.5,186 390,183 390.5,177 391,177 391.5,174 392,171 392.5,171 393,168 393.5,162 394,159 395.5,159 396,156 396.5,156 397,153 397.5,153 398,150 398.5,147 399,150 399.5,147 400,144 401,144 401.5,147 402,144 402.5,144 403,141 403.5,141 404,144 404.5,144 405,141 407.5,141 408,144 408.5,138 409,138 409.5,144 410,141 410.5,141 411,138 411.5,141 412,138 412.5,135 413,138 414.5,138 415,141 416,141 416.5,138 417,135 418,135 418.5,138 419,132 421,132 421.5,138 422,138 422.5,135 424,135 424.5,138 425.5,138 426,135 426.5,138 427.5,138 428,132 428.5,135 429.5,135 430,138 430.5,141 431,144 431.5,144 432,141 432.5,138 433,144 433.5,138 434,138 434.5,141 435,147 435.5,147 436,141 436.5,144 437,144 437.5,138 438,138 438.5,135 439,141 439.5,138 440,141 440.5,138 441.5,138 442,144 442.5,150 443,147 443.5,144 444,153 444.5,150 445,156 447,156 447.5,150 448,156 448.5,150 449,150 449.5,147 450,150 450.5,153 453.5,153 454,156 454.5,153 455,159 455.5,156 457,156 457.5,159 458,162 458.5,165 459,162 459.5,165 461,165 461.5,168 462.5,168 463,171 464,171 464.5,168 465,171 465.5,171 466,174 466.5,174 467,171 467.5,174 468,171 469,171 469.5,168 470,171 470.5,168 471,168 471.5,174 472,177 474.5,177 475,183 475.5,180 476,183 476.5,186 478,186 478.5,183 479,186 479.5,183 480,186 480.5,189 481,192 481.5,189 482,186 482.5,186 483,189 483.5,186 484,195 484.5,192 485,192 485.5,195 486.5,195 487,198 487.5,198 488,195 488.5,198 489.5,198 490,201 492,201 492.5,198 493,204 493.5,201 494,207 494.5,204 495,201 495.5,204 496,207 496.5,201 498,201 498.5,207 499,204 499.5,210 500,207 500.5,210 502,210 502.5,213 504,213 504.5,219 505,216 505.5,216 506,213 506.5,216 507,222 507.5,216 508,216 508.5,213 509,216 509.5,222 510,219 510.5,225 511,222 511.5,219 512,219 512.5,222 513,222 513.5,225 514.5,225 515,222 516,222 516.5,225 517,228 517.5,231 518,228 518.5,225 519,228 521,228 521.5,225 522,225 522.5,234 523,237 523.5,237 524,240 524.5,234 526.5,234 527,240 527.5,240 528,234 528.5,237 529,237 529.5,231 530,234 530.5,237 531,237 531.5,240 532,237 534,237 534.5,240 535,243 535.5,243 536,246 536.5,243 537.5,243 538,249 538.5,252 539,255 539.5,258 540,255 540.5,258 541,255 544.5,255 545,258 545.5,261 546,255 546.5,258 547.5,258 548,261 548.5,258 549,261 549.5,264 550,261 550.5,264 551,261 551.5,264 552,264 552.5,258 553.5,258 554,255 554.5,255 555,261 555.5,258 556,267 556.5,264 557,264 557.5,261 558,261 558.5,264 559,264 559.5,267 560,267 560.5,270 562.5,270 563,273 563.5,273 564,276 565.5,276 566,282 566.5,279 567,279 567.5,276 568,273 569,273 569.5,276 570,276 570.5,279 571,279 571.5,282 572,279 573,279 573.5,285 574,282 574.5,276 575,279 575.5,282 576,279 576.5,279 577,282 578,282 578.5,285 579,288 579.5,288 580,282 580.5,288 581,285 581.5,288 582,288 582.5,285 583,288 583.5,285 584,285 584.5,288 585,285 585.5,291 586,288 586.5,291 587.5,291 588,288 588.5,291 589,294 589.5,297 590,300 590.5,297 591,300 591.5,297 592,294 592.5,297 593,300 593.5,297 594,294 594.5,297 597,297 597.5,300 598,297 598.5,294 599,297 599.5,294 600,297 600.5,303 601,303 601.5,300 602,300 602.5,297 603,300 603.5,300 604,297 604.5,303 605,300 605.5,300 606,303 606.5,303 607,306 607.5,303 608.5,303 609,306 610,306 610.5,309 611.5,309 612,315 612.5,315 613,312 613.5,309 615,309 615.5,312 616,315 616.5,318 617,321 617.5,318 618,321 618.5,315 619,312 619.5,318 620,318 620.5,321 621,318 621.5,318 622,321 622.5,321 623,315 623.5,318 624,318 624.5,321 625.5,321 626,318 626.5,321 627,324 627.5,321 628,318 628.5,321 629.5,321 630,324 630.5,327 631,324 631.5,324 632,321 632.5,324 633,324 633.5,321 634,324 634.5,327 635,324 637,324 637.5,330 638.5,330 639,327 639.5,327 640,330 640.5,330 641,333 641.5,336 642,339 643,339 643.5,336 644,333 646.5,333 647,330 647.5,339 648,339 648.5,336 649,333 650,333 650.5,336 651.5,336 652,342 652.5,339 653.5,339 654,342 654.5,342 655,345 655.5,351 656,345 656.5,348 657,345 657.5,348 660,348 660.5,351 661,351 661.5,348 662,351 662.5,348 663,342 663.5,345 664,345 664.5,348 665,348 665.5,351 666,351 666.5,354 667,348 668,348 668.5,354 669,354 669.5,351 670,357 670.5,360 671,360 671.5,354 672.5,354 673,357 674.5,357 675,360 675.5,360 676,354 676.5,357 677,357 677.5,363 678,360 678.5,357 679,357 679.5,354 680,354 680.5,351 681,354 681.5,354 682,360 682.5,363 683,366 683.5,360 684.5,360 685,357 685.5,363 686,357 686.5,363 687.5,363 688,369 688.5,363 689,366 691,366 691.5,369 692,372 693,372 693.5,369 694,369 694.5,375 695,372 695.5,372 696,375 696.5,375 697,378 697.5,378 698,375 698.5,375 699,378 699.5,375 700,375 700.5,372 701.5,372 702,378 702.5,375 703,378 703.5,381 704,378 704.5,381 706,381 706.5,378 707,381 708.5,381 709,387 709.5,384 710,387 710.5,390 711,387 711.5,390 712,393 713.5,393 714,387 714.5,384 715,390 715.5,387 716,387 716.5,390 717,390 717.5,387 718,390 718.5,387 719,384 719.5,387 720.5,387 721,393 721.5,387 722.5,387 723,390 723.5,387 724,390 724.5,390 725,393 725.5,390 726,396 726.5,393 727,393 727.5,396 728,399 728.5,399 729,402 729.5,399 730.5,399 731,396 731.5,393 732,396 732.5,399 733.5,399 734,405 734.5,399 735,399 735.5,396 736,396 736.5,402 738,402 738.5,399 739,399 739.5,396 740,402 740.5,396 741,396 741.5,399 742,402 742.5,408 743,405 747,405 747.5,399 748,402 748.5,405 749,405 749.5,408 750,411 750.5,414 751,414 751.5,411 752,414 752.5,411 753.5,411 754,417 755.5,417 756,420 756.5,417 757,420 758,420 758.5,417 759,417 759.5,420 760,420 760.5,417 761,417 761.5,414 762,420 762.5,417 763,417 763.5,414 764,417 764.5,417 765,426 765.5,423 766,417 766.5,414 767,417 767.5,417 768,414 768.5,417 769,414 769.5,417 770,417 770.5,414 771,417 771.5,417 772,414 773,414 773.5,417 774,423 774.5,420 775,417 775.5,417 776,420 776.5,417 777,414 777.5,414 778,420 778.5,420 779,423 779.5,426 780.5,426 781,423 782.5,423 783,426 785,426 785.5,429 786,426 786.5,429 787,432 787.5,429 788,432 788.5,429 789,435 789.5,432 790.5,432 791,429 792.5,429 793,432 793.5,432 794,435 794.5,438 795,438 795.5,441 796,441 796.5,438 797.5,438 798,435 798.5,435 799,438 799.5,435 800,435 800.5,441 801,435 801.5,435 802,438 802.5,441 803,438 803.5,444 804,441 804.5,444 805,444 805.5,441 806,441 806.5,444 807,441 807.5,438 808,444 808.5,441 809,438 809.5,435 810,438 810.5,441 811,435 811.5,438 812,432 812.5,435 813,441 813.5,441 814,444 814.5,441 815,435 815.5,441 816,435 816.5,441 817,444 817.5,447 818,444 818.5,444 819,447 819.5,447 820,444 820.5,447 821.5,447 822,444 822.5,444 823,450 823.5,447 824,450 824.5,450 825,444 825.5,447 826,450 826.5,450 827,447 827.5,450 828,453 828.5,447 829,450 829.5,450 830,453 830.5,456 831,450 831.5,450 832,453 832.5,450 833,453 833.5,450 834,450 834.5,447 835,453 836,453 836.5,456 837.5,456 838,459 838.5,462 839,459 839.5,456 840,459 840.5,459 841,462 841.5,459 842,459 842.5,465 843,465 843.5,459 844,459 844.5,462 845,468 846.5,468 847,462 847.5,468 848,465 849,465 849.5,471 851,471 851.5,462 852,465 852.5,468 853,465 853.5,465 854,468 854.5,468 855,471 855.5,474 856,471 857,471 857.5,474 858,471 859,471 859.5,477 860,471 860.5,474 861,471 861.5,468 862,471 864,471 864.5,465 865,471 867,471 867.5,474 868,474 868.5,471 869,471 869.5,474 870,471 870.5,477 871,477 871.5,474 872,477 872.5,474 873,480 873.5,474 874,474 874.5,480 875.5,480 876,474 877,474 877.5,477 878,474 879,474 879.5,477 880,477 880.5,474 882,474 882.5,477 883.5,477 884,483 884.5,480 886,480 886.5,483 887,483 887.5,480 888,486 888.5,489 889,486 889.5,486 890,483 890.5,489 891,492 891.5,483 892,489 892.5,492 894.5,492 895,495 895.5,492 896,492 896.5,495 897,489 897.5,495 898,492 898.5,495 899,492 899.5,495 900,495 900.5,498 901,501 901.5,501 902,507 902.5,513 903,522 903.5,525 904,534 904.5,537 905,549 905.5,570 906,591 906.5,615 907,639 907.5,654 908,669 908.5,687 909,705 909.5,720 910,732 910.5,741 911,750 911.5,759 912,777 912.5,792 913,804 913.5,813 914,822 914.5,834 915,846 915.5,855 916,864 916.5,876 917,879 917.5,888 918,894 918.5,900 919,906 919.5,912 920,915 920.5,918 921,921 921.5,921 922,927 922.5,933 923,936 923.5,936 924,945 924.5,945 925,948 925.5,948 926,951 926.5,948 927,951 927.5,954 928,957 928.5,960 929,963 929.5,966 930.5,966 931,972 931.5,969 932,972 932.5,975 933,978 934,978 934.5,975 935,978 935.5,978 936,981 936.5,984 937,990 937.5,990 938,993 938.5,990 939,996 940,996 940.5,999 941,1002 941.5,1008 942,1005 943.5,1005 944,1008 944.5,1014 946.5,1014 947,1017 947.5,1011 948,1014 949,1014 949.5,1017 950,1020 950.5,1020 951,1023 951.5,1023 952,1020 953.5,1020 954,1023 955,1023 955.5,1026 956,1023 956.5,1023 957,1026 957.5,1023 958,1026 958.5,1026 959,1029 960.5,1029 961,1026 962.5,1026 963,1032 963.5,1032 964,1029 964.5,1032 965,1032 965.5,1029 969,1029 969.5,1023 970,1026 970.5,1029 972,1029 972.5,1032 973,1029 973.5,1029 974,1032 974.5,1032 975,1038 975.5,1035 976.5,1035 977,1032 977.5,1035 978,1038 978.5,1038 979,1035 979.5,1038 981,1038 981.5,1041 984,1041 984.5,1038 985,1038 985.5,1044 986,1041 986.5,1038 987.5,1038 988,1035 989,1035 989.5,1038 990,1038 990.5,1035 991.5,1035 992,1038 993.5,1038 994,1041 994.5,1038 995,1041 995.5,1041 996,1044 997,1044 997.5,1041 999,1041 999.5,1044 1000,1047 1000.5,1044 1001,1041 1001.5,1038 1002,1038 1002.5,1041 1003,1038 1003.5,1041 1004,1041 1004.5,1038 1005,1044 1005.5,1047 1006,1044 1008,1044 1008.5,1038 1009,1038 1009.5,1041 1010,1041 1010.5,1044 1011,1038 1011.5,1035 1012.5,1035 1013,1038 1014.5,1038 1015,1044 1015.5,1038 1016.5,1038 1017,1041 1019,1041 1019.5,1044 1020,1044 1020.5,1041 1021,1041 1021.5,1044 1022,1041 1022.5,1035 1023,1038 1025.5,1038 1026,1044 1026.5,1038 1027,1038 1027.5,1035 1028,1038 1028.5,1041 1029,1041 1029.5,1038 1030,1041 1033.5,1041 1034,1038 1034.5,1035 1035,1041 1037,1041 1037.5,1044 1038,1041 1040.5,1041 1041,1038 1042,1038 1042.5,1035 1043,1038 1043.5,1041 1044,1041 1044.5,1038 1045,1041 1048,1041 1048.5,1044 1049,1041 1049.5,1044 1050,1041 1053,1041 1053.5,1044 1054,1041 1056,1041 1056.5,1044 1057,1041 1057.5,1041 1058,1044 1058.5,1041 1059.5,1041 1060,1044 1060.5,1041 1061,1044 1064.5,1044 1065,1041 1065.5,1044 1066,1041 1067,1041 1067.5,1044 1068,1047 1068.5,1044 1069,1041 1069.5,1038 1070,1044 1070.5,1041 1071,1041 1071.5,1044 1072,1038 1072.5,1038 1073,1044 1073.5,1041 1074,1041 1074.5,1044 1075,1041 1075.5,1044 1077.5,1044 1078,1041 1078.5,1044 1079,1041 1079.5,1044 1080,1047 1080.5,1050 1083,1050 1083.5,1047 1084,1050 1084.5,1047 1085,1044 1085.5,1044 1086,1047 1086.5,1044 1087,1041 1088,1041 1088.5,1044 1089,1041 1089.5,1044 1090,1047 1091,1047 1091.5,1050 1092,1047 1093,1047 1093.5,1044 1094,1044 1094.5,1050 1095,1047 1096,1047 1096.5,1044 1097,1041 1097.5,1038 1098,1041 1098.5,1044 1099,1041 1099.5,1041 1100,1044 1100.5,1047 1102,1047 1102.5,1050 1103,1047 1105,1047 1105.5,1050 1106,1047 1106.5,1050 1107,1050 1107.5,1047 1109,1047 1109.5,1044 1110,1044 1110.5,1047 1111,1050 1111.5,1047 1112,1050 1112.5,1044 1113,1047 1115.5,1047 1116,1044 1116.5,1041 1117,1041 1117.5,1044 1118,1041 1119.5,1041 1120,1044 1121,1044 1121.5,1047 1122.5,1047 1123,1050 1123.5,1047 1124,1044"/>
<polyline fill="none" stroke="#00FF00" stroke-width="8" stroke-linejoin="miter" stroke-miterlimit="2" shape-rendering="crispEdges" points="226,1092 227,1092 227.5,1099 228,1092 228.5,1092 229,1099 229.5,1092 231,1092 231.5,1099 233,1099 233.5,1092 234,1099 234.5,1092 239,1092 239.5,1085 240,1092 241,1092 241.5,1099 242,1099 242.5,1092 251,1092 251.5,1099 252,1099 252.5,1092 256,1092 256.5,1085 257.5,1085 258,1092 260,1092 260.5,1099 261,1092 261.5,1099 262,1099 262.5,1092 263.5,1092 264,1099 264.5,1099 265,1092 265.5,1092 266,1099 266.5,1099 267,1092 268.5,1092 269,1099 269.5,1099 270,1092 271.5,1092 272,1099 272.5,1099 273,1092 273.5,1099 274,1092 274.5,1099 275,1092 277,1092 277.5,1099 278,1099 278.5,1092 279,1099 279.5,1099 280,1092 281.5,1092 282,1085 282.5,1092 283,1092 283.5,1099 284,1092 284.5,1099 285,1099 285.5,1092 286,1099 286.5,1099 287,1092 287.5,1099 288,1092 288.5,1092 289,1099 290,1099 290.5,1092 292,1092 292.5,1099 293,1092 297,1092 297.5,1099 298,1092 301.5,1092 302,1085 302.5,1085 303,1092 305.5,1092 306,1099 306.5,1092 307,1092 307.5,1099 308,1092 308.5,1099 309,1092 309.5,1099 310,1099 310.5,1092 311,1099 311.5,1092 312,1099 312.5,1092 314.5,1092 315,1099 316.5,1099 317,1092 322.5,1092 323,1085 323.5,1092 324.5,1092 325,1099 325.5,1092 326.5,1092 327,1099 327.5,1099 328,1092 328.5,1092 329,1099 329.5,1099 330,1092 330.5,1085 331,1092 338.5,1092 339,1099 339.5,1092 340,1085 340.5,1092 342,1092 342.5,1099 343,1092 345,1092 345.5,1099 346,1099 346.5,1092 350.5,1092 351,1099 351.5,1092 353,1092 353.5,1099 356.5,1099 357,1092 357.5,1099 358,1106 358.5,1099 359.5,1099 360,1092 361.5,1092 362,1099 362.5,1092 363,1099 363.5,1092 367.5,1092 368,1099 369,1099 369.5,1092 371.5,1092 372,1071 372.5,1036 373,1001 373.5,973 374,952 374.5,931 375,903 375.5,868 376,826 376.5,777 377,728 377.5,679 378,623 378.5,560 379,497 379.5,441 380,413 380.5,385 381,364 381.5,343 382,322 382.5,315 383,308 383.5,301 384,294 384.5,287 385,287 385.5,273 386,266 386.5,266 387,252 387.5,245 388,231 388.5,224 389,217 389.5,210 390,210 390.5,203 391,196 391.5,189 392,189 392.5,182 393,182 393.5,175 394,168 395.5,168 396,161 396.5,161 397,154 402,154 402.5,147 403,147 403.5,154 404,147 406,147 406.5,140 407,147 408.5,147 409,140 412,140 412.5,147 413,140 414,140 414.5,147 415,147 415.5,140 416,147 416.5,147 417,154 418.5,154 419,147 419.5,154 421.5,154 422,161 427,161 427.5,168 428,168 428.5,175 429,168 429.5,175 433,175 433.5,182 435,182 435.5,189 438,189 438.5,196 439,196 439.5,189 440,189 440.5,196 441,196 441.5,203 445.5,203 446,210 447,210 447.5,217 448.5,217 449,224 449.5,224 450,217 450.5,224 451,217 452,217 452.5,224 453,224 453.5,231 454,231 454.5,224 455.5,224 456,231 457,231 457.5,238 458,238 458.5,245 459,238 461,238 461.5,245 463.5,245 464,238 464.5,245 465,245 465.5,252 466.5,252 467,259 467.5,252 468,259 468.5,252 469,252 469.5,245 470,252 470.5,259 471,266 473.5,266 474,280 474.5,273 477,273 477.5,280 478,280 478.5,273 479,273 479.5,280 480.5,280 481,287 481.5,287 482,294 482.5,287 484.5,287 485,294 485.5,287 486,294 486.5,294 487,301 488.5,301 489,294 489.5,301 490.5,301 491,308 491.5,308 492,315 492.5,301 493,308 493.5,308 494,301 494.5,308 495,315 495.5,308 496,322 496.5,315 497,315 497.5,308 498,308 498.5,315 499.5,315 500,322 503,322 503.5,329 504,336 504.5,322 505,329 505.5,336 506,336 506.5,329 508,329 508.5,336 511,336 511.5,329 512,336 512.5,336 513,343 514,343 514.5,350 515.5,350 516,343 516.5,343 517,350 517.5,343 518,343 518.5,350 519,357 520,357 520.5,350 521,357 521.5,350 522,364 522.5,357 523.5,357 524,350 524.5,357 525,357 525.5,364 526,364 526.5,357 527,364 527.5,371 528,371 528.5,357 529,364 530,364 530.5,371 531,371 531.5,378 532.5,378 533,371 533.5,378 534,371 534.5,371 535,378 535.5,385 536,378 536.5,385 537,378 537.5,385 538.5,385 539,392 539.5,392 540,385 540.5,385 541,392 541.5,392 542,385 542.5,399 543,392 543.5,399 544,392 544.5,392 545,399 548,399 548.5,406 549,399 551.5,399 552,406 554.5,406 555,413 555.5,413 556,406 556.5,413 557,420 557.5,413 559,413 559.5,420 561,420 561.5,427 562,427 562.5,434 563,427 564,427 564.5,420 565.5,420 566,427 567.5,427 568,434 569,434 569.5,427 570,427 570.5,434 571,427 573.5,427 574,434 574.5,434 575,441 575.5,434 576,427 576.5,434 577.5,434 578,427 578.5,434 580,434 580.5,448 581,441 582,441 582.5,448 585,448 585.5,455 586,448 587,448 587.5,455 588,448 589,448 589.5,462 590,455 590.5,455 591,448 591.5,448 592,455 592.5,455 593,462 594,462 594.5,455 597,455 597.5,448 598,448 598.5,462 599,455 599.5,455 600,448 600.5,455 601.5,455 602,462 602.5,455 603.5,455 604,462 604.5,469 605,462 606.5,462 607,469 607.5,462 608,462 608.5,469 609,462 609.5,462 610,469 610.5,469 611,462 611.5,469 612,476 612.5,476 613,469 613.5,476 614,476 614.5,469 615,476 616.5,476 617,483 617.5,476 619,476 619.5,483 620,476 622,476 622.5,483 625,483 625.5,490 626,483 626.5,490 627,490 627.5,483 628,490 631,490 631.5,497 633.5,497 634,504 634.5,497 635,490 635.5,490 636,497 637,497 637.5,504 638,497 638.5,504 639,518 639.5,504 640,511 640.5,511 641,504 642,504 642.5,511 643,504 643.5,504 644,511 645,511 645.5,518 646,511 647,511 647.5,518 648,511 649,511 649.5,518 651.5,518 652,525 652.5,518 653,511 653.5,518 654.5,518 655,525 655.5,518 657.5,518 658,525 660.5,525 661,532 662,532 662.5,525 663.5,525 664,518 664.5,525 665,532 665.5,525 666,525 666.5,518 667,525 667.5,532 668,539 670,539 670.5,546 672.5,546 673,539 673.5,546 676,546 676.5,553 678,553 678.5,546 679,553 680,553 680.5,560 681.5,560 682,553 682.5,553 683,560 683.5,560 684,567 686,567 686.5,560 687,567 687.5,567 688,560 689,560 689.5,567 691,567 691.5,574 692,574 692.5,567 693.5,567 694,574 694.5,574 695,567 696.5,567 697,574 698,574 698.5,567 699,567 699.5,574 702,574 702.5,567 703,567 703.5,574 704,567 704.5,574 705,574 705.5,581 706,581 706.5,574 707,581 707.5,574 708,581 708.5,574 712,574 712.5,581 713,574 713.5,574 714,588 715,588 715.5,581 716,588 716.5,581 717,581 717.5,588 718,581 718.5,588 719,581 720,581 720.5,588 721,588 721.5,581 722,588 724,588 724.5,595 725,595 725.5,588 726,595 726.5,595 727,602 727.5,602 728,595 728.5,595 729,588 729.5,595 730,595 730.5,602 731,595 732,595 732.5,602 733,609 733.5,595 734,602 736.5,602 737,609 737.5,609 738,602 738.5,595 739,609 739.5,609 740,602 740.5,602 741,595 741.5,602 742.5,602 743,609 744,609 744.5,602 745,602 745.5,609 748.5,609 749,616 750,616 750.5,609 751,609 751.5,616 752.5,616 753,609 754.5,609 755,616 757.5,616 758,609 758.5,616 759.5,616 760,609 760.5,609 761,616 762,616 762.5,623 763,616 765,616 765.5,623 766,616 766.5,623 767,623 767.5,630 768.5,630 769,616 769.5,623 770,630 770.5,637 771,630 774.5,630 775,623 775.5,616 776,623 776.5,623 777,630 778,630 778.5,637 779,630 779.5,630 780,623 780.5,637 781,637 781.5,630 782,623 782.5,623 783,630 783.5,637 784.5,637 785,630 785.5,637 786,637 786.5,644 788,644 788.5,637 789,637 789.5,644 790,637 790.5,644 791,644 791.5,637 793.5,637 794,644 794.5,637 795.5,637 796,644 796.5,651 797,644 797.5,644 798,651 798.5,644 799,651 799.5,644 800.5,644 801,651 806.5,651 807,658 807.5,651 808.5,651 809,644 809.5,651 811,651 811.5,658 812,651 812.5,651 813,644 813.5,644 814,651 817,651 817.5,658 818.5,658 819,651 819.5,651 820,658 820.5,665 821,658 823,658 823.5,665 824,665 824.5,658 825,665 828.5,665 829,658 829.5,665 830.5,665 831,658 831.5,665 832,665 832.5,672 833,665 834,665 834.5,672 835,665 835.5,658 836,665 836.5,672 837.5,672 838,665 838.5,672 839,672 839.5,679 840,679 840.5,672 841,679 841.5,665 842,672 842.5,672 843,679 844,679 844.5,672 845,672 845.5,679 846,672 846.5,679 847,672 847.5,672 848,679 849.5,679 850,672 850.5,672 851,679 851.5,679 852,672 853.5,672 854,679 854.5,672 855.5,672 856,679 857.5,679 858,686 858.5,686 859,679 860,679 860.5,686 864.5,686 865,679 866.5,679 867,693 868,693 868.5,686 869,686 869.5,693 870,693 870.5,686 872,686 872.5,693 873,693 873.5,686 874,693 877,693 877.5,700 879.5,700 880,693 880.5,693 881,700 881.5,693 883,693 883.5,700 885.5,700 886,693 886.5,700 887,686 887.5,686 888,693 889,693 889.5,700 895,700 895.5,693 896,700 898,700 898.5,707 899.5,707 900,700 901.5,700 902,707 903,707 903.5,714 904.5,714 905,721 905.5,721 906,735 906.5,742 907,756 907.5,770 908,784 908.5,791 909,798 909.5,812 910,819 910.5,819 911,826 911.5,847 912,861 912.5,868 913,889 913.5,903 914,917 914.5,924 915,938 915.5,938 916,945 916.5,945 917,952 917.5,959 918,959 918.5,966 919,966 919.5,980 920,987 921.5,987 922,994 923.5,994 924,1008 925,1008 925.5,1015 926,1008 926.5,1015 927,1022 927.5,1022 928,1015 928.5,1008 929,1015 929.5,1022 930,1022 930.5,1015 931,1022 931.5,1029 932,1029 932.5,1036 933,1043 934.5,1043 935,1050 936.5,1050 937,1043 937.5,1050 938,1043 940,1043 940.5,1050 941,1057 941.5,1050 942,1057 942.5,1050 943,1043 943.5,1043 944,1050 944.5,1050 945,1057 945.5,1050 946,1057 946.5,1050 947,1057 947.5,1050 950,1050 950.5,1057 951.5,1057 952,1064 952.5,1050 953,1050 953.5,1057 954,1043 954.5,1057 955,1050 956.5,1050 957,1043 957.5,1050 959,1050 959.5,1043 960,1050 960.5,1050 961,1057 961.5,1050 962.5,1050 963,1036 963.5,1043 964,1050 964.5,1050 965,1057 966.5,1057 967,1050 968,1050 968.5,1057 969.5,1057 970,1050 971,1050 971.5,1057 972,1043 972.5,1036 973,1043 973.5,1050 974,1050 974.5,1057 975,1057 975.5,1050 977.5,1050 978,1057 982.5,1057 983,1050 983.5,1043 984,1043 984.5,1050 985,1057 985.5,1064 986,1064 986.5,1057 989,1057 989.5,1050 990.5,1050 991,1064 992,1064 992.5,1057 994,1057 994.5,1050 995,1043 995.5,1050 996.5,1050 997,1057 997.5,1050 998,1057 998.5,1050 999.5,1050 1000,1057 1000.5,1050 1001,1057 1001.5,1050 1002,1050 1002.5,1057 1003,1050 1004,1050 1004.5,1057 1005,1057 1005.5,1050 1006.5,1050 1007,1057 1007.5,1064 1008,1057 1010.5,1057 1011,1050 1011.5,1057 1012,1064 1012.5,1057 1014,1057 1014.5,1050 1015,1057 1016,1057 1016.5,1064 1017,1057 1017.5,1057 1018,1064 1018.5,1057 1019,1064 1019.5,1057 1021,1057 1021.5,1064 1022,1057 1022.5,1043 1023,1043 1023.5,1050 1024,1043 1024.5,1050 1025,1057 1025.5,1043 1026,1036 1026.5,1043 1027,1043 1027.5,1057 1029.5,1057 1030,1050 1030.5,1043 1031,1050 1031.5,1050 1032,1043 1032.5,1043 1033,1050 1033.5,1057 1034,1050 1034.5,1057 1035,1050 1035.5,1057 1037,1057 1037.5,1050 1038,1050 1038.5,1057 1039,1064 1040.5,1064 1041,1071 1041.5,1064 1042,1057 1042.5,1057 1043,1064 1043.5,1071 1044,1071 1044.5,1064 1045.5,1064 1046,1057 1046.5,1050 1047,1050 1047.5,1057 1048,1064 1048.5,1064 1049,1050 1049.5,1057 1050,1050 1050.5,1057 1051,1064 1051.5,1071 1052,1064 1052.5,1057 1053,1064 1053.5,1057 1054,1057 1054.5,1064 1055.5,1064 1056,1057 1056.5,1050 1057.5,1050 1058,1064 1058.5,1057 1059,1050 1059.5,1057 1060,1050 1061,1050 1061.5,1057 1062,1064 1063,1064 1063.5,1057 1064,1057 1064.5,1050 1065,1057 1065.5,1057 1066,1050 1066.5,1057 1067,1050 1067.5,1050 1068,1057 1070,1057 1070.5,1050 1072,1050 1072.5,1043 1073,1050 1073.5,1050 1074,1043 1074.5,1050 1075,1050 1075.5,1057 1076,1057 1076.5,1050 1077,1057 1077.5,1057 1078,1043 1078.5,1050 1079,1064 1079.5,1064 1080,1057 1080.5,1057 1081,1064 1081.5,1064 1082,1057 1083,1057 1083.5,1071 1084,1064 1084.5,1057 1085,1064 1085.5,1057 1086,1050 1086.5,1057 1087,1064 1087.5,1064 1088,1057 1088.5,1064 1089,1050 1090.5,1050 1091,1064 1092,1064 1092.5,1071 1093,1057 1093.5,1064 1094,1057 1094.5,1064 1095,1064 1095.5,1057 1097,1057 1097.5,1064 1098,1064 1098.5,1057 1100.5,1057 1101,1064 1101.5,1057 1102.5,1057 1103,1064 1103.5,1057 1104.5,1057 1105,1064 1105.5,1071 1106,1057 1106.5,1057 1107,1050 1108,1050 1108.5,1057 1109,1057 1109.5,1071 1110,1057 1111,1057 1111.5,1050 1112.5,1050 1113,1057 1116.5,1057 1117,1050 1117.5,1050 1118,1057 1118.5,1057 1119,1050 1119.5,1050 1120,1043 1120.5,1050 1121,1050 1121.5,1057 1123.5,1057 1124,1064"/>
<g fill="#000">
<rect x="222" y="34" width="1286" height="7"/>
<rect x="222" y="1141" width="1286" height="8"/>
<rect x="222" y="34" width="8" height="1115"/>
<rect x="1501" y="34" width="7" height="1115"/>
<rect x="230" y="1093.57" width="9.5" height="7.5"/>
<rect x="1490.5" y="1093.57" width="10.5" height="7.5"/>
<rect x="230" y="900.85" width="9.5" height="7.5"/>
<rect x="1490.5" y="900.85" width="10.5" height="7.5"/>
<rect x="230" y="708.12" width="9.5" height="7.5"/>
<rect x="1490.5" y="708.12" width="10.5" height="7.5"/>
<rect x="230" y="515.40" width="9.5" height="7.5"/>
<rect x="1490.5" y="515.40" width="10.5" height="7.5"/>
<rect x="230" y="322.68" width="9.5" height="7.5"/>
<rect x="1490.5" y="322.68" width="10.5" height="7.5"/>
<rect x="230" y="129.95" width="9.5" height="7.5"/>
<rect x="1490.5" y="129.95" width="10.5" height="7.5"/>
<rect x="222.00" y="41" width="8" height="10"/>
<rect x="222.00" y="1131" width="8" height="10"/>
<rect x="381.81" y="41" width="8" height="10"/>
<rect x="381.81" y="1131" width="8" height="10"/>
<rect x="541.62" y="41" width="8" height="10"/>
<rect x="541.62" y="1131" width="8" height="10"/>
<rect x="701.44" y="41" width="8" height="10"/>
<rect x="701.44" y="1131" width="8" height="10"/>
<rect x="861.25" y="41" width="8" height="10"/>
<rect x="861.25" y="1131" width="8" height="10"/>
<rect x="1021.06" y="41" width="8" height="10"/>
<rect x="1021.06" y="1131" width="8" height="10"/>
<rect x="1180.88" y="41" width="8" height="10"/>
<rect x="1180.88" y="1131" width="8" height="10"/>
</g>
<g font-family="Liberation Serif, serif" font-weight="bold" font-size="80" fill="#000">
<text transform="translate(214,1125.1) scale(1,1.025)" text-anchor="end">0</text>
<text transform="translate(214,932.4) scale(1,1.025)" text-anchor="end">0.2</text>
<text transform="translate(214,739.7) scale(1,1.025)" text-anchor="end">0.4</text>
<text transform="translate(214,546.9) scale(1,1.025)" text-anchor="end">0.6</text>
<text transform="translate(214,354.2) scale(1,1.025)" text-anchor="end">0.8</text>
<text transform="translate(214,161.5) scale(1,1.025)" text-anchor="end">1</text>
<text transform="translate(225.2,1229.5) scale(1,1.025)" text-anchor="middle">0</text>
<text transform="translate(385.0,1229.5) scale(1,1.025)" text-anchor="middle">50</text>
<text transform="translate(544.8,1229.5) scale(1,1.025)" text-anchor="middle">100</text>
<text transform="translate(704.6,1229.5) scale(1,1.025)" text-anchor="middle">150</text>
<text transform="translate(864.5,1229.5) scale(1,1.025)" text-anchor="middle">200</text>
<text transform="translate(1024.3,1229.5) scale(1,1.025)" text-anchor="middle">250</text>
<text transform="translate(1184.1,1229.5) scale(1,1.025)" text-anchor="middle">300</text>
<text x="863.5" y="1310.4" text-anchor="middle" font-size="79">Time (ns)</text>
<text transform="translate(80,593) rotate(-90)" text-anchor="middle">Intensity (a. u.)</text>
</g>
<g font-family="Liberation Serif, serif" font-weight="bold" font-size="62" fill="#000">
<rect x="979" y="96.0" width="115" height="8" fill="#00FFFF"/>
<text x="1107" y="123.6">seed</text>
<rect x="979" y="170.3" width="115" height="8" fill="#FF8000"/>
<text x="1107" y="195.9">1st amplifier</text>
<rect x="979" y="244.7" width="115" height="8" fill="#FF00FF"/>
<text x="1107" y="270.6">2nd amplifier</text>
<rect x="979" y="318.3" width="115" height="8" fill="#000000"/>
<text x="1107" y="345.5">3rd amplifier</text>
<rect x="979" y="393.2" width="115" height="8" fill="#00FF00"/>
<text x="1107" y="419.0">green laser</text>
</g>
</svg>
</body></html>
